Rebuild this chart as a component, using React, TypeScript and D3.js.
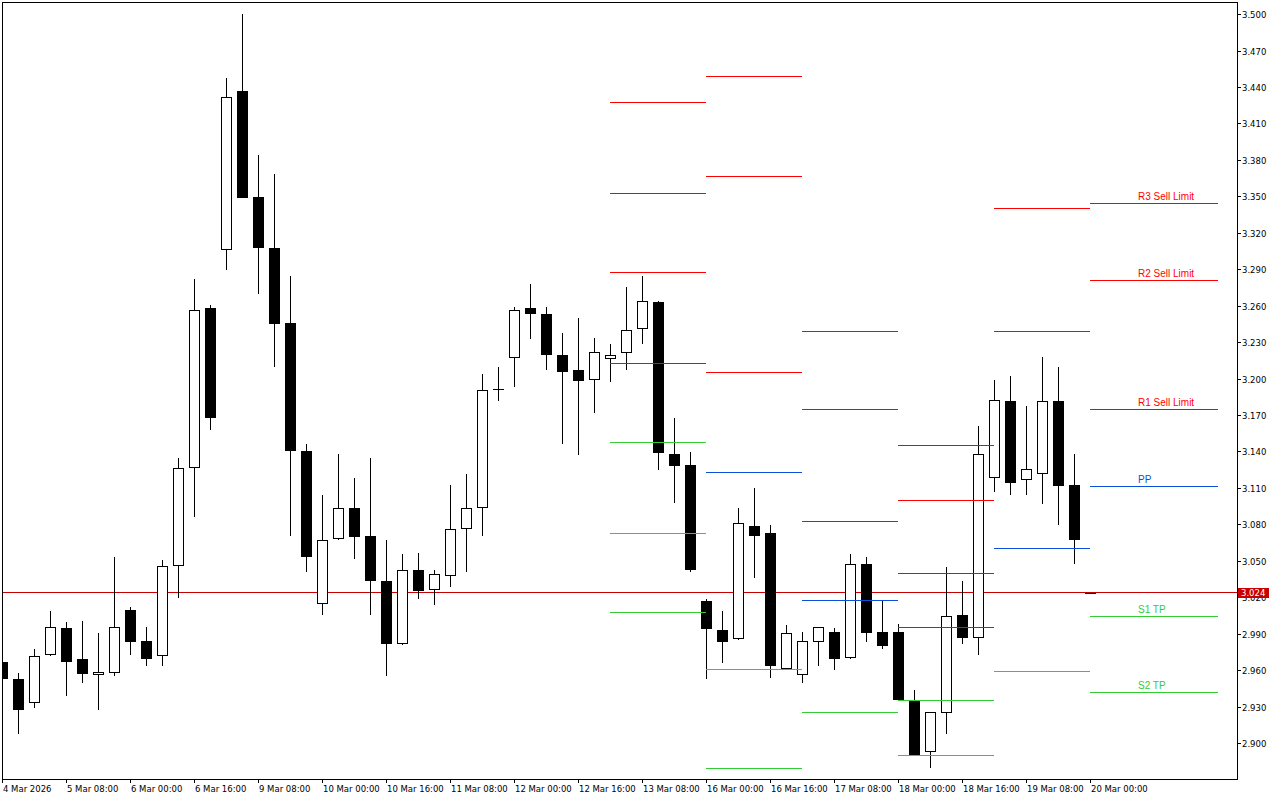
import React from "react";
import * as d3 from "d3";

// ---- Candle data (H4 bars, index 0 = 4 Mar 16:00, index 68 = 20 Mar 00:00) ----
const opens: number[] = [
  2.967, 2.953, 2.933, 2.973, 2.995, 2.969, 2.956, 2.958, 3.010, 2.984,
  2.972, 3.046, 3.127, 3.258, 3.306, 3.437, 3.350, 3.308, 3.246, 3.141,
  3.015, 3.068, 3.094, 3.071, 3.034, 2.982, 3.043, 3.026, 3.038, 3.076,
  3.094, 3.192, 3.217, 3.258, 3.253, 3.220, 3.207, 3.199, 3.216, 3.221,
  3.241, 3.263, 3.138, 3.129, 3.017, 2.993, 2.986, 3.079, 3.073, 2.961,
  2.956, 2.983, 2.992, 2.970, 3.048, 2.992, 2.992, 2.935, 2.893, 2.925,
  3.006, 2.987, 3.118, 3.182, 3.117, 3.122, 3.182, 3.113, 3.024,
];
const highs: number[] = [
  2.968, 2.958, 2.978, 3.009, 3.000, 3.001, 2.991, 3.053, 3.012, 2.996,
  3.051, 3.135, 3.282, 3.261, 3.448, 3.500, 3.384, 3.369, 3.285, 3.146,
  3.104, 3.138, 3.118, 3.135, 3.067, 3.056, 3.057, 3.043, 3.113, 3.122,
  3.204, 3.210, 3.259, 3.278, 3.259, 3.238, 3.250, 3.234, 3.229, 3.276,
  3.285, 3.264, 3.168, 3.140, 3.019, 3.009, 3.094, 3.110, 3.080, 2.997,
  2.992, 2.996, 2.995, 3.056, 3.053, 3.017, 2.998, 2.944, 2.926, 3.045,
  3.034, 3.161, 3.199, 3.202, 3.178, 3.218, 3.210, 3.138, 3.024,
];
const lows: number[] = [
  2.952, 2.908, 2.929, 2.972, 2.939, 2.950, 2.927, 2.955, 2.973, 2.964,
  2.964, 3.020, 3.086, 3.158, 3.290, 3.349, 3.270, 3.210, 3.071, 3.041,
  3.006, 3.067, 3.052, 3.006, 2.955, 2.981, 3.019, 3.014, 3.029, 3.041,
  3.071, 3.182, 3.193, 3.233, 3.207, 3.146, 3.137, 3.172, 3.197, 3.207,
  3.229, 3.125, 3.098, 3.041, 2.953, 2.966, 2.985, 3.036, 2.954, 2.960,
  2.950, 2.964, 2.960, 2.969, 2.983, 2.978, 2.936, 2.890, 2.880, 2.908,
  2.982, 2.973, 3.107, 3.104, 3.104, 3.097, 3.080, 3.048, 3.024,
];
const closes: number[] = [
  2.953, 2.927, 2.972, 2.996, 2.967, 2.957, 2.959, 2.996, 2.983, 2.969,
  3.046, 3.127, 3.257, 3.168, 3.432, 3.349, 3.308, 3.245, 3.141, 3.053,
  3.067, 3.094, 3.070, 3.034, 2.982, 3.043, 3.025, 3.039, 3.076, 3.094,
  3.191, 3.192, 3.257, 3.253, 3.220, 3.206, 3.198, 3.222, 3.220, 3.240,
  3.264, 3.139, 3.128, 3.043, 2.994, 2.983, 3.081, 3.071, 2.964, 2.991,
  2.984, 2.996, 2.969, 3.048, 2.991, 2.980, 2.936, 2.890, 2.926, 3.005,
  2.987, 3.138, 3.183, 3.114, 3.126, 3.182, 3.112, 3.067, 3.024,
];

// ---- Time axis labels (one every 4 bars) ----
const timeLabels: string[] = [
  "4 Mar 2026", "5 Mar 08:00", "6 Mar 00:00", "6 Mar 16:00", "9 Mar 08:00",
  "10 Mar 00:00", "10 Mar 16:00", "11 Mar 08:00", "12 Mar 00:00", "12 Mar 16:00",
  "13 Mar 08:00", "16 Mar 00:00", "16 Mar 16:00", "17 Mar 08:00", "18 Mar 00:00",
  "18 Mar 16:00", "19 Mar 08:00", "20 Mar 00:00",
];
const labelEvery = 4;

// ---- Daily pivot levels ----
const pivotDays: string[] = ["13 Mar", "16 Mar", "17 Mar", "18 Mar", "19 Mar", "20 Mar"];
const pivotStartBar: number[] = [38, 44, 50, 56, 62, 68];
const pivotEndBar: number[] = [44, 50, 56, 62, 68, 76];
const levelR3: (number | null)[] = [3.4276, 3.4490, 3.2391, 3.1453, null, 3.3447];
const levelR2: (number | null)[] = [3.3527, 3.3667, 3.1749, 3.1000, 3.3404, 3.2814];
const levelR1: (number | null)[] = [3.2877, 3.2054, 3.0827, 3.0399, 3.2391, 3.1749];
const levelPP: (number | null)[] = [3.2128, 3.1231, 3.0177, 2.9955, 3.0605, 3.1115];
const levelS1: (number | null)[] = [3.1478, 2.9609, 2.9255, 2.9354, 2.9593, 3.0045];
const levelS2: (number | null)[] = [3.0729, 2.8794, null, 2.8901, null, 2.9420];
const levelS3: (number | null)[] = [3.0078, null, null, null, null, null];
const levelNames: string[] = ["R3 Sell Limit", "R2 Sell Limit", "R1 Sell Limit", "PP", "S1 TP", "S2 TP", "S3 TP"];
const labelBar = 71;

const currentPrice = 3.024;
const yTickValues: number[] = [
  3.5, 3.47, 3.44, 3.41, 3.38, 3.35, 3.32, 3.29, 3.26, 3.23, 3.2,
  3.17, 3.14, 3.11, 3.08, 3.05, 3.02, 2.99, 2.96, 2.93, 2.9,
];

// ---- styling ----
const RED = "#ff0000";
const BLUE = "#0a50dc";
const GREEN = "#32cd32";
const PRICE_RED = "#c80000";
const AXIS_FONT = "'DejaVu Sans', Tahoma, sans-serif";
const LABEL_FONT = "'Liberation Sans', Arial, sans-serif";

const plotL = 2, plotT = 2, plotR = 1237, plotB = 779;

export default function App() {
  const x = d3.scaleLinear().domain([0, 76]).range([2, 1218]);
  const y = d3.scaleLinear().domain([2.9, 3.5]).range([743.3, 14.4]);
  const snap = (v: number) => Math.floor(v + 0.2) + 0.5;

  const levels = [levelR3, levelR2, levelR1, levelPP, levelS1, levelS2, levelS3];
  const levelColors = [RED, RED, RED, BLUE, GREEN, GREEN, GREEN];

  const candles = opens.map((o, i) => {
    const xc = Math.round(x(i));
    const h = highs[i], l = lows[i], c = closes[i];
    const yH = Math.round(y(h)), yL = Math.round(y(l));
    const yO = Math.round(y(o)), yC = Math.round(y(c));
    const top = Math.min(yO, yC), bot = Math.max(yO, yC);
    const bull = c > o;
    const parts: React.ReactNode[] = [];
    if (yL > yH) parts.push(<rect key="w" x={xc} y={yH} width={1} height={yL - yH} fill="#000" />);
    if (bot - top < 1) {
      parts.push(<rect key="b" x={xc - 5} y={top} width={11} height={1} fill="#000" />);
    } else if (bull) {
      parts.push(
        <rect key="b" x={xc - 4.5} y={top + 0.5} width={10} height={Math.max(bot - top - 1, 0)}
          fill="#fff" stroke="#000" strokeWidth={1} />
      );
    } else {
      parts.push(<rect key="b" x={xc - 5} y={top} width={11} height={bot - top} fill="#000" />);
    }
    return <g key={i}>{parts}</g>;
  });

  const pivotLines: React.ReactNode[] = [];
  levels.forEach((arr, li) => {
    arr.forEach((v, di) => {
      if (v == null) return;
      const yy = snap(y(v));
      pivotLines.push(
        <line key={`p${li}-${di}`} x1={x(pivotStartBar[di])} x2={x(pivotEndBar[di])} y1={yy} y2={yy}
          stroke={levelColors[li]} strokeWidth={1} />
      );
      if (di === pivotDays.length - 1) {
        pivotLines.push(
          <text key={`t${li}`} x={x(labelBar)} y={yy - 3.5} fill={levelColors[li]}
            fontFamily={LABEL_FONT} fontSize={10}>{levelNames[li]}</text>
        );
      }
    });
  });

  const priceY = snap(y(currentPrice));

  return (
    <svg width={1280} height={800} style={{ position: "fixed", left: 0, top: 0, background: "#fff" }}
      shapeRendering="crispEdges">
      <defs>
        <clipPath id="plot">
          <rect x={plotL + 1} y={plotT + 1} width={plotR - plotL - 1} height={plotB - plotT - 1} />
        </clipPath>
      </defs>
      <rect x={0} y={0} width={1280} height={800} fill="#fff" />
      <g clipPath="url(#plot)">
        <line x1={plotL} x2={plotR} y1={priceY} y2={priceY} stroke={PRICE_RED} strokeWidth={1} />
        {candles}
        {pivotLines}
      </g>
      {/* frame */}
      <rect x={plotL + 0.5} y={plotT + 0.5} width={plotR - plotL} height={plotB - plotT}
        fill="none" stroke="#000" strokeWidth={1} />
      {/* y axis */}
      {yTickValues.map((v) => {
        const yy = snap(y(v));
        return (
          <g key={v}>
            <line x1={plotR} x2={plotR + 4} y1={yy} y2={yy} stroke="#000" />
            <text x={plotR + 5} y={yy + 3.5} fontFamily={AXIS_FONT} fontSize={8.5} fill="#000"
              style={{ textRendering: "optimizeLegibility" }}>{d3.format(".3f")(v)}</text>
          </g>
        );
      })}
      <rect x={plotR + 1} y={priceY - 5} width={31} height={10} fill={PRICE_RED} />
      <text x={plotR + 4} y={priceY + 3.5} fontFamily={AXIS_FONT} fontSize={8.5} fill="#fff">
        {d3.format(".3f")(currentPrice)}
      </text>
      {/* x axis */}
      {timeLabels.map((t, i) => {
        const xc = Math.round(x(i * labelEvery)) + 0.5;
        return (
          <g key={t}>
            <line x1={xc} x2={xc} y1={plotB} y2={plotB + 4} stroke="#000" />
            <text x={xc + 0.5} y={792} fontFamily={AXIS_FONT} fontSize={8.5} fill="#000">{t}</text>
          </g>
        );
      })}
    </svg>
  );
}
